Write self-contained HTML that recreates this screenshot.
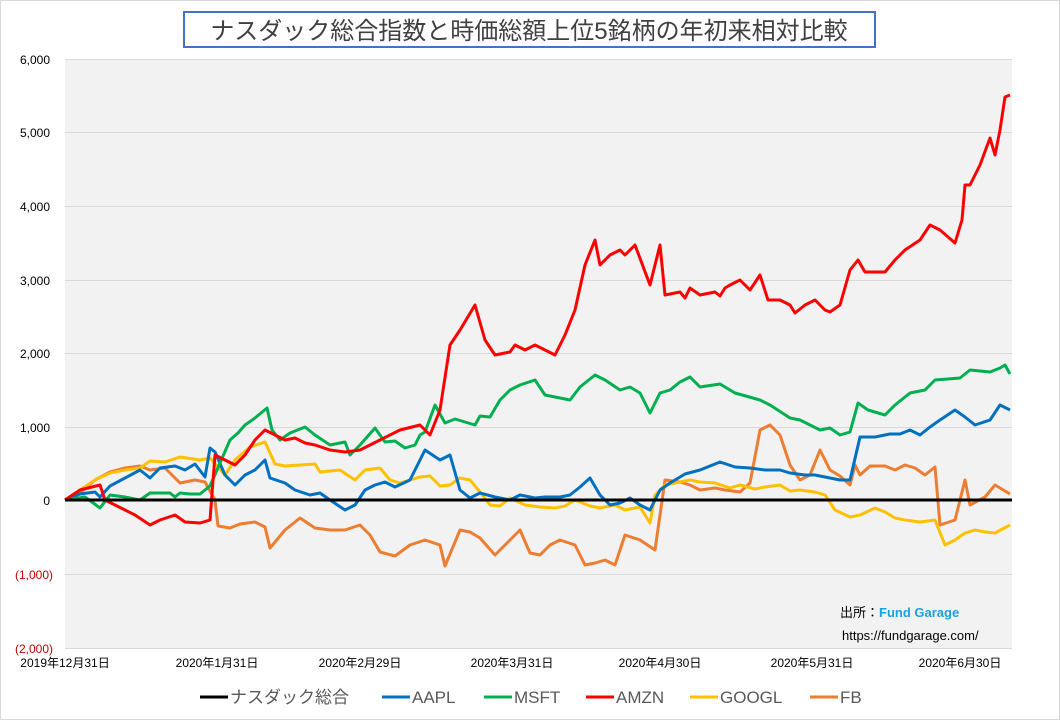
<!DOCTYPE html>
<html><head><meta charset="utf-8"><style>
body{margin:0;background:#fff}
svg{display:block;font-family:"Liberation Sans","Noto Sans CJK JP",sans-serif}
</style></head><body>
<svg width="1060" height="720" viewBox="0 0 1060 720">
<rect x="0.5" y="0.5" width="1059" height="719" fill="#fff" stroke="#d9d9d9"/>
<rect x="65" y="59" width="947" height="589" fill="#f2f2f2"/>
<g stroke="#d9d9d9" stroke-width="1">
<line x1="65" x2="1012" y1="59.5" y2="59.5"/><line x1="65" x2="1012" y1="132.5" y2="132.5"/>
<line x1="65" x2="1012" y1="206.5" y2="206.5"/><line x1="65" x2="1012" y1="280.5" y2="280.5"/>
<line x1="65" x2="1012" y1="353.5" y2="353.5"/><line x1="65" x2="1012" y1="427.5" y2="427.5"/>
<line x1="65" x2="1012" y1="574.5" y2="574.5"/><line x1="65" x2="1012" y1="648.5" y2="648.5"/>
</g>
<rect x="184" y="12" width="691" height="35" fill="#fff" stroke="#4472c4" stroke-width="2"/>
<text x="529" y="39" font-size="24" text-anchor="middle" fill="#404040">ナスダック総合指数と時価総額上位5銘柄の年初来相対比較</text>
<g font-size="12" text-anchor="end" fill="#000">
<text x="50" y="64">6,000</text><text x="50" y="137">5,000</text><text x="50" y="211">4,000</text>
<text x="50" y="285">3,000</text><text x="50" y="358">2,000</text><text x="50" y="432">1,000</text>
<text x="50" y="505">0</text><text x="53" y="579" fill="#c00000">(1,000)</text><text x="53" y="653" fill="#c00000">(2,000)</text>
</g>
<g font-size="12" text-anchor="middle" fill="#000">
<text x="65" y="667">2019年12月31日</text><text x="217" y="667">2020年1月31日</text>
<text x="360" y="667">2020年2月29日</text><text x="512" y="667">2020年3月31日</text>
<text x="660" y="667">2020年4月30日</text><text x="812" y="667">2020年5月31日</text>
<text x="960" y="667">2020年6月30日</text>
</g>
<g fill="none" stroke-width="3" stroke-linejoin="round">
<polyline stroke="#ed7d31" points="65,500 80,493 95,480 110,472 125,468 140,466 150,470 165,468 180,483 195,480 205,482 215,500 218,526 230,528 240,524 255,522 265,527 270,548 285,530 300,518 315,528 330,530 345,530 360,525 370,535 380,552 395,556 410,545 425,540 440,545 445,566 460,530 470,532 480,538 495,555 510,540 520,530 530,553 540,555 550,545 560,540 575,545 585,565 595,563 605,560 615,565 625,535 640,540 655,550 665,480 680,482 690,485 700,490 715,488 725,490 740,492 750,483 760,430 770,425 780,435 790,465 800,480 810,475 820,450 830,470 840,476 850,485 855,465 860,475 870,466 885,466 895,470 905,465 915,468 925,475 935,467 940,525 955,520 965,480 970,505 985,497 995,485 1010,494"/>
<polyline stroke="#ffc000" points="65,500 80,490 95,480 110,473 125,470 140,468 150,461 165,462 180,457 200,460 210,458 225,475 235,460 250,447 265,442 275,464 285,466 300,465 315,464 320,472 340,470 355,480 365,470 380,468 390,480 400,483 420,477 430,476 440,486 450,485 460,478 470,480 480,492 490,505 500,506 510,498 525,505 540,507 555,508 565,506 575,500 590,506 600,508 615,505 625,510 640,507 650,523 655,495 665,485 680,482 690,480 700,482 715,483 730,488 740,485 755,489 765,487 780,485 790,491 800,490 815,492 825,495 835,510 850,517 860,515 875,508 885,512 895,518 905,520 920,522 935,520 945,545 955,540 965,533 975,530 985,532 995,533 1010,525"/>
<polyline stroke="#0070c0" points="65,500 80,494 95,492 100,497 110,486 125,478 140,470 150,478 160,468 175,466 185,470 195,464 205,477 210,448 215,452 225,475 235,485 245,475 255,470 265,460 270,478 285,483 295,490 310,495 320,493 330,500 345,510 355,505 365,490 375,485 385,482 395,487 410,480 425,450 440,460 450,455 460,490 470,498 480,493 495,497 510,500 520,495 535,498 545,497 560,497 570,495 580,487 590,478 600,495 610,505 620,503 630,498 640,505 650,510 660,490 670,483 685,474 700,470 720,462 735,467 750,468 765,470 780,470 790,473 805,475 815,475 830,478 840,480 850,480 860,437 875,437 890,434 900,434 910,430 920,435 930,427 940,420 955,410 965,417 975,425 990,420 1000,405 1010,410"/>
<polyline stroke="#00b050" points="65,500 85,497 100,508 110,495 125,497 140,500 150,493 170,493 175,497 180,493 190,494 200,494 210,486 230,440 238,433 245,425 255,418 267,408 272,430 280,440 290,433 305,427 315,435 330,445 345,442 350,455 360,445 375,428 385,442 395,441 405,448 415,445 420,435 425,432 435,405 445,423 455,419 475,425 480,416 490,417 500,400 510,390 520,385 535,380 545,395 570,400 580,387 595,375 605,380 620,390 630,387 640,393 650,413 660,393 670,390 680,382 690,377 700,387 720,384 735,393 760,400 770,405 790,418 800,420 820,430 830,428 840,435 850,432 858,403 868,410 885,415 895,405 910,393 925,390 935,380 960,378 970,370 990,372 1000,368 1005,365 1010,374"/>
<polyline stroke="#ff0000" points="65,500 80,490 100,485 105,500 115,505 125,510 135,515 150,525 160,520 175,515 185,522 200,523 210,520 215,455 225,460 235,465 245,455 255,440 265,430 275,435 285,440 295,438 305,443 315,445 330,450 345,452 360,450 380,440 400,430 420,425 430,435 440,410 450,345 460,330 475,305 485,340 495,355 510,352 515,345 525,350 535,345 545,350 555,355 565,335 575,310 585,265 595,240 600,265 610,255 620,250 625,255 635,245 650,285 660,245 665,295 680,292 685,298 690,288 700,295 715,292 720,296 725,288 730,285 740,280 750,290 760,275 768,300 780,300 790,305 795,313 805,305 815,300 825,310 830,312 840,305 850,270 858,260 865,272 885,272 895,260 905,250 920,240 930,225 940,230 955,243 962,220 965,185 970,185 980,165 990,138 995,155 1000,130 1005,97 1010,95"/>
</g>
<line x1="65" x2="1012" y1="500" y2="500" stroke="#000" stroke-width="3"/>
<text x="840" y="617" font-size="13" fill="#000">出所：<tspan fill="#1ba1e2" font-weight="bold">Fund Garage</tspan></text>
<text x="842" y="640" font-size="13" fill="#000">https://fundgarage.com/</text>
<g font-size="17" fill="#595959">
<line x1="200" x2="228" y1="697" y2="697" stroke="#000" stroke-width="3"/><text x="230" y="703">ナスダック総合</text>
<line x1="382" x2="410" y1="697" y2="697" stroke="#0070c0" stroke-width="3"/><text x="412" y="703">AAPL</text>
<line x1="484" x2="512" y1="697" y2="697" stroke="#00b050" stroke-width="3"/><text x="514" y="703">MSFT</text>
<line x1="586" x2="614" y1="697" y2="697" stroke="#ff0000" stroke-width="3"/><text x="616" y="703">AMZN</text>
<line x1="690" x2="718" y1="697" y2="697" stroke="#ffc000" stroke-width="3"/><text x="720" y="703">GOOGL</text>
<line x1="810" x2="838" y1="697" y2="697" stroke="#ed7d31" stroke-width="3"/><text x="840" y="703">FB</text>
</g>
</svg>
</body></html>
